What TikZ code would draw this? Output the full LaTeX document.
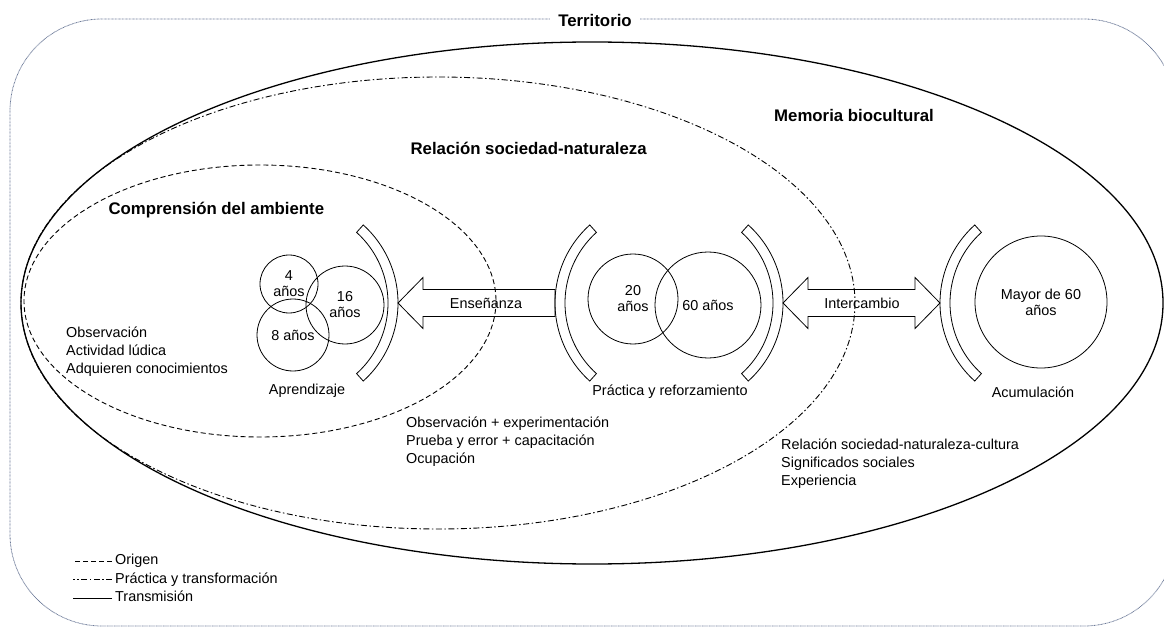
\documentclass[tikz,border=0pt]{standalone}
\usepackage{fontspec}
\setmainfont{Liberation Sans}
\usetikzlibrary{positioning}
\definecolor{framegray}{RGB}{108,122,152}

\begin{document}
\begin{tikzpicture}[x=1pt,y=-1pt,
    every node/.style={font=\fontsize{14.4}{18}\selectfont},
    title/.style={font=\fontsize{16.8}{20}\selectfont\bfseries},
    txt/.style={align=left,anchor=west,inner sep=0pt},
    legtxt/.style={anchor=west,inner sep=0pt,text height=10.5pt,text depth=3pt},
    age/.style={draw,circle,inner sep=0pt,align=center,line width=0.8pt,
        font=\fontsize{14.4}{16}\selectfont},
    origen/.style={dash pattern=on 5pt off 3pt,line width=0.9pt},
    practica/.style={dash pattern=on 6pt off 2.5pt on 1.5pt off 2.5pt,line width=0.9pt},
    transmision/.style={line width=1.3pt},
    frame/.style={draw=framegray,line width=0.8pt,dash pattern=on 0.8pt off 0.6pt,
        rounded corners=92pt},
    bracket/.style={draw,line width=0.8pt,line join=miter},
    blockarrow/.style={draw,line width=0.8pt,line join=miter}]

        \useasboundingbox (0,0) rectangle (1164,628);

        % territorio
        \draw[frame] (10,19) rectangle (1176,626);
        \node[title,fill=white,inner xsep=8pt] (territorio) at (595,20) {Territorio};

        % the three ellipses
        \draw[transmision] (592,303) ellipse [x radius=571, y radius=261];
        \draw[practica] (438,303) ellipse [x radius=417, y radius=226];
        \draw[origen] (260,301) ellipse [x radius=236, y radius=136];

        \node[title] (memoria) at (854,115) {Memoria biocultural};
        \node[title,anchor=west] (relacion) at (407,148) {Relación sociedad-naturaleza};
        \node[title,anchor=west] (comprension) at (105,210) {Comprensión del ambiente};

        % ages
        \node[age, minimum size=58pt] (a4) at (289,284) {4\\años};
        \node[age, minimum size=78pt] (a16) at (345,305) {16\\años};
        \node[age, minimum size=72pt] (a8) at (293,335) {8 años};

        \node[age, minimum size=90pt] (a20) at (633,299) {20\\años};
        \node[age, minimum size=106pt] (a60) at (708,305) {60 años};

        \node[age, minimum size=132pt] (amayor) at (1041,302) {Mayor de 60\\años};

        % brackets
        \coordinate (apr) at (293,303);
        \coordinate (prl) at (660,303);
        \coordinate (prr) at (678,303);
        \coordinate (acu) at (1045,303);

        \draw[bracket] ([shift={(apr)}]-48:105) arc[start angle=-48,end angle=48,radius=105]
            -- ([shift={(apr)}]48:95) arc[start angle=48,end angle=-48,radius=95] -- cycle;
        \draw[bracket] ([shift={(prl)}]132:105) arc[start angle=132,end angle=228,radius=105]
            -- ([shift={(prl)}]228:95) arc[start angle=228,end angle=132,radius=95] -- cycle;
        \draw[bracket] ([shift={(prr)}]-48:105) arc[start angle=-48,end angle=48,radius=105]
            -- ([shift={(prr)}]48:95) arc[start angle=48,end angle=-48,radius=95] -- cycle;
        \draw[bracket] ([shift={(acu)}]132:105) arc[start angle=132,end angle=228,radius=105]
            -- ([shift={(acu)}]228:95) arc[start angle=228,end angle=132,radius=95] -- cycle;

        \coordinate (apr-edge) at ([shift={(apr)}]0:105);
        \coordinate (prl-edge) at ([shift={(prl)}]180:105);
        \coordinate (prr-edge) at ([shift={(prr)}]0:105);
        \coordinate (acu-edge) at ([shift={(acu)}]180:105);

        \node (aprendizaje) at (307,391) {Aprendizaje};
        \node (reforzamiento) at (670,392) {Práctica y reforzamiento};
        \node (acumulacion) at (1033,392) {Acumulación};

        % block arrows
        \draw[blockarrow] (apr-edge) -- ++(25,-25.5) -- ++(0,12) -- ++(132,0)
            -- ++(0,27) -- ++(-132,0) -- ++(0,12) -- cycle;
        \node (ensenanza) at (486,303) {Enseñanza};

        \draw[blockarrow] (prr-edge) -- ++(25,-25.5) -- ++(0,12) -- ++(107,0)
            -- ++(0,-12) -- ++(25,25.5) -- ++(-25,25.5) -- ++(0,-12)
            -- ++(-107,0) -- ++(0,12) -- cycle;
        \node (intercambio) at (862,303) {Intercambio};

        % lists
        \node[txt] (infancia) at (66,352) {Observación\\Actividad lúdica\\Adquieren conocimientos};
        \node[txt] (juventud) at (406,441.5) {Observación + experimentación\\Prueba y error + capacitación\\Ocupación};
        \node[txt] (vejez) at (781,463.5) {Relación sociedad-naturaleza-cultura\\Significados sociales\\Experiencia};

        % legend
        \node[legtxt] (leg-origen) at (115,561) {Origen};
        \node[legtxt, below=18.5pt of leg-origen.west, anchor=west] (leg-practica) {Práctica y transformación};
        \node[legtxt, below=18.5pt of leg-practica.west, anchor=west] (leg-transmision) {Transmisión};

        \draw[origen] ([xshift=-3pt]leg-origen.west) -- ++(-39,0);
        \draw[practica] ([xshift=-3pt]leg-practica.west) -- ++(-39,0);
        \draw[transmision,line width=1pt] ([xshift=-3pt]leg-transmision.west) -- ++(-39,0);
      \end{tikzpicture}
\end{document}
